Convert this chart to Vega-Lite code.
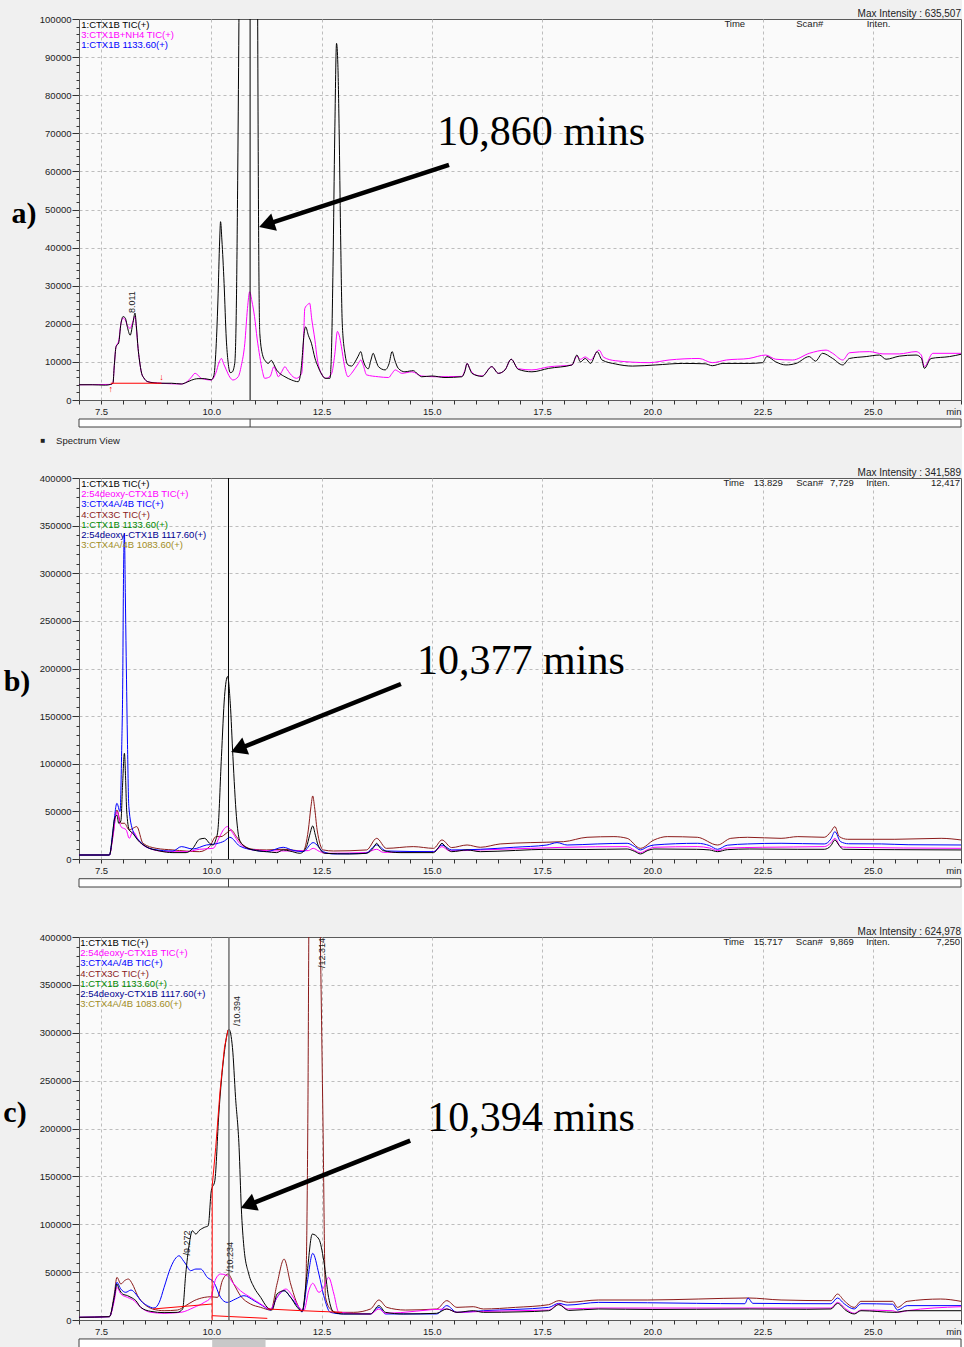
{
"$schema":"https://vega.github.io/schema/vega-lite/v6.json",
"background":"#f0f0f0",
"padding":{"left":2,"top":8,"right":0,"bottom":0},
"config":{"font":"Liberation Sans","view":{"stroke":"#5a5a5a","fill":"#fafafa","strokeWidth":1},"text":{"font":"Liberation Sans","fontSize":9.5,"color":"#222222"},"point":{"opacity":1}},
"datasets":{
"A":[
{"s":"TIC2","t":7.0,"v":4000},{"s":"TIC2","t":7.72,"v":4100},{"s":"TIC2","t":7.77,"v":4400},{"s":"TIC2","t":7.8,"v":9000},{"s":"TIC2","t":7.84,"v":14000},{"s":"TIC2","t":7.9,"v":15500},{"s":"TIC2","t":7.95,"v":20000},{"s":"TIC2","t":8.0,"v":21500},{"s":"TIC2","t":8.05,"v":21000},{"s":"TIC2","t":8.1,"v":19500},{"s":"TIC2","t":8.16,"v":18800},{"s":"TIC2","t":8.22,"v":20500},{"s":"TIC2","t":8.27,"v":22000},{"s":"TIC2","t":8.3,"v":19000},{"s":"TIC2","t":8.34,"v":13500},{"s":"TIC2","t":8.37,"v":10500},{"s":"TIC2","t":8.42,"v":7000},{"s":"TIC2","t":8.47,"v":5800},{"s":"TIC2","t":8.56,"v":4800},{"s":"TIC2","t":8.86,"v":4400},{"s":"TIC2","t":9.32,"v":4200},{"s":"TIC2","t":9.45,"v":4800},{"s":"TIC2","t":9.55,"v":6000},{"s":"TIC2","t":9.63,"v":7000},{"s":"TIC2","t":9.7,"v":6500},{"s":"TIC2","t":9.77,"v":5700},{"s":"TIC2","t":10.0,"v":5250},{"s":"TIC2","t":10.1,"v":7000},{"s":"TIC2","t":10.18,"v":10000},{"s":"TIC2","t":10.23,"v":10900},{"s":"TIC2","t":10.28,"v":9500},{"s":"TIC2","t":10.34,"v":7900},{"s":"TIC2","t":10.42,"v":6000},{"s":"TIC2","t":10.49,"v":5250},{"s":"TIC2","t":10.61,"v":6100},{"s":"TIC2","t":10.68,"v":9000},{"s":"TIC2","t":10.76,"v":14900},{"s":"TIC2","t":10.82,"v":24000},{"s":"TIC2","t":10.87,"v":28400},{"s":"TIC2","t":10.92,"v":26000},{"s":"TIC2","t":10.98,"v":21900},{"s":"TIC2","t":11.04,"v":16000},{"s":"TIC2","t":11.1,"v":11400},{"s":"TIC2","t":11.16,"v":7500},{"s":"TIC2","t":11.21,"v":5700},{"s":"TIC2","t":11.33,"v":6100},{"s":"TIC2","t":11.42,"v":8750},{"s":"TIC2","t":11.47,"v":7500},{"s":"TIC2","t":11.52,"v":6100},{"s":"TIC2","t":11.6,"v":7500},{"s":"TIC2","t":11.67,"v":8750},{"s":"TIC2","t":11.72,"v":8000},{"s":"TIC2","t":11.78,"v":7000},{"s":"TIC2","t":11.93,"v":5700},{"s":"TIC2","t":12.05,"v":7000},{"s":"TIC2","t":12.09,"v":15000},{"s":"TIC2","t":12.12,"v":24000},{"s":"TIC2","t":12.18,"v":25000},{"s":"TIC2","t":12.23,"v":25400},{"s":"TIC2","t":12.28,"v":21000},{"s":"TIC2","t":12.35,"v":15700},{"s":"TIC2","t":12.4,"v":11000},{"s":"TIC2","t":12.46,"v":7900},{"s":"TIC2","t":12.61,"v":5700},{"s":"TIC2","t":12.73,"v":7000},{"s":"TIC2","t":12.8,"v":12000},{"s":"TIC2","t":12.86,"v":18000},{"s":"TIC2","t":12.9,"v":17000},{"s":"TIC2","t":12.95,"v":14000},{"s":"TIC2","t":13.02,"v":9000},{"s":"TIC2","t":13.1,"v":6100},{"s":"TIC2","t":13.18,"v":7000},{"s":"TIC2","t":13.26,"v":8300},{"s":"TIC2","t":13.33,"v":9500},{"s":"TIC2","t":13.39,"v":10500},{"s":"TIC2","t":13.45,"v":9000},{"s":"TIC2","t":13.52,"v":6600},{"s":"TIC2","t":13.79,"v":6100},{"s":"TIC2","t":14.02,"v":5900},{"s":"TIC2","t":14.1,"v":7000},{"s":"TIC2","t":14.17,"v":7900},{"s":"TIC2","t":14.24,"v":7500},{"s":"TIC2","t":14.32,"v":7000},{"s":"TIC2","t":14.55,"v":7400},{"s":"TIC2","t":14.77,"v":6300},{"s":"TIC2","t":15.08,"v":6100},{"s":"TIC2","t":15.68,"v":6200},{"s":"TIC2","t":15.75,"v":7800},{"s":"TIC2","t":15.8,"v":9600},{"s":"TIC2","t":15.88,"v":7800},{"s":"TIC2","t":15.98,"v":6600},{"s":"TIC2","t":16.14,"v":6300},{"s":"TIC2","t":16.36,"v":8750},{"s":"TIC2","t":16.51,"v":7000},{"s":"TIC2","t":16.66,"v":7900},{"s":"TIC2","t":16.8,"v":10700},{"s":"TIC2","t":16.96,"v":8200},{"s":"TIC2","t":17.27,"v":7900},{"s":"TIC2","t":17.65,"v":8700},{"s":"TIC2","t":18.18,"v":9200},{"s":"TIC2","t":18.29,"v":11500},{"s":"TIC2","t":18.37,"v":10700},{"s":"TIC2","t":18.48,"v":11300},{"s":"TIC2","t":18.6,"v":10500},{"s":"TIC2","t":18.79,"v":13100},{"s":"TIC2","t":18.9,"v":11200},{"s":"TIC2","t":19.17,"v":10300},{"s":"TIC2","t":19.93,"v":9800},{"s":"TIC2","t":20.38,"v":10500},{"s":"TIC2","t":21.06,"v":10900},{"s":"TIC2","t":21.36,"v":9800},{"s":"TIC2","t":21.68,"v":10500},{"s":"TIC2","t":22.19,"v":10900},{"s":"TIC2","t":22.57,"v":11800},{"s":"TIC2","t":22.8,"v":10700},{"s":"TIC2","t":23.18,"v":10500},{"s":"TIC2","t":23.56,"v":12250},{"s":"TIC2","t":23.94,"v":13100},{"s":"TIC2","t":24.09,"v":12250},{"s":"TIC2","t":24.32,"v":10500},{"s":"TIC2","t":24.47,"v":12400},{"s":"TIC2","t":24.92,"v":12700},{"s":"TIC2","t":25.23,"v":12100},{"s":"TIC2","t":25.6,"v":12100},{"s":"TIC2","t":25.98,"v":12700},{"s":"TIC2","t":26.1,"v":11800},{"s":"TIC2","t":26.17,"v":8750},{"s":"TIC2","t":26.36,"v":12250},{"s":"TIC2","t":27.0,"v":12250},
{"s":"TIC1","t":7.0,"v":4000},{"s":"TIC1","t":7.3,"v":4000},{"s":"TIC1","t":7.6,"v":3900},{"s":"TIC1","t":7.72,"v":4100},{"s":"TIC1","t":7.77,"v":4400},{"s":"TIC1","t":7.8,"v":9000},{"s":"TIC1","t":7.84,"v":14000},{"s":"TIC1","t":7.9,"v":15000},{"s":"TIC1","t":7.95,"v":20000},{"s":"TIC1","t":8.0,"v":21900},{"s":"TIC1","t":8.05,"v":21500},{"s":"TIC1","t":8.1,"v":19000},{"s":"TIC1","t":8.16,"v":17000},{"s":"TIC1","t":8.22,"v":20000},{"s":"TIC1","t":8.27,"v":22800},{"s":"TIC1","t":8.3,"v":19500},{"s":"TIC1","t":8.34,"v":13500},{"s":"TIC1","t":8.37,"v":10500},{"s":"TIC1","t":8.42,"v":7000},{"s":"TIC1","t":8.47,"v":5800},{"s":"TIC1","t":8.56,"v":4800},{"s":"TIC1","t":8.7,"v":4500},{"s":"TIC1","t":8.86,"v":4400},{"s":"TIC1","t":9.1,"v":4400},{"s":"TIC1","t":9.32,"v":4200},{"s":"TIC1","t":9.45,"v":4700},{"s":"TIC1","t":9.55,"v":5200},{"s":"TIC1","t":9.7,"v":5600},{"s":"TIC1","t":9.85,"v":5600},{"s":"TIC1","t":10.0,"v":5300},{"s":"TIC1","t":10.06,"v":6500},{"s":"TIC1","t":10.1,"v":12000},{"s":"TIC1","t":10.15,"v":26000},{"s":"TIC1","t":10.19,"v":42000},{"s":"TIC1","t":10.21,"v":46800},{"s":"TIC1","t":10.24,"v":42000},{"s":"TIC1","t":10.29,"v":30600},{"s":"TIC1","t":10.34,"v":16000},{"s":"TIC1","t":10.38,"v":10000},{"s":"TIC1","t":10.43,"v":7200},{"s":"TIC1","t":10.47,"v":7300},{"s":"TIC1","t":10.53,"v":9500},{"s":"TIC1","t":10.57,"v":26000},{"s":"TIC1","t":10.6,"v":60000},{"s":"TIC1","t":10.63,"v":105000},{"s":"TIC1","t":10.86,"v":635507},{"s":"TIC1","t":11.05,"v":105000},{"s":"TIC1","t":11.07,"v":50000},{"s":"TIC1","t":11.1,"v":17500},{"s":"TIC1","t":11.17,"v":11500},{"s":"TIC1","t":11.23,"v":10200},{"s":"TIC1","t":11.29,"v":9600},{"s":"TIC1","t":11.36,"v":10400},{"s":"TIC1","t":11.42,"v":9300},{"s":"TIC1","t":11.48,"v":7900},{"s":"TIC1","t":11.55,"v":7000},{"s":"TIC1","t":11.67,"v":6100},{"s":"TIC1","t":11.82,"v":5250},{"s":"TIC1","t":11.97,"v":4800},{"s":"TIC1","t":12.02,"v":6500},{"s":"TIC1","t":12.06,"v":11000},{"s":"TIC1","t":12.1,"v":17000},{"s":"TIC1","t":12.14,"v":19200},{"s":"TIC1","t":12.2,"v":17000},{"s":"TIC1","t":12.27,"v":14900},{"s":"TIC1","t":12.35,"v":11000},{"s":"TIC1","t":12.42,"v":8750},{"s":"TIC1","t":12.5,"v":6800},{"s":"TIC1","t":12.58,"v":5700},{"s":"TIC1","t":12.69,"v":5700},{"s":"TIC1","t":12.73,"v":15000},{"s":"TIC1","t":12.76,"v":35000},{"s":"TIC1","t":12.8,"v":70000},{"s":"TIC1","t":12.84,"v":93600},{"s":"TIC1","t":12.87,"v":88000},{"s":"TIC1","t":12.9,"v":70000},{"s":"TIC1","t":12.93,"v":45000},{"s":"TIC1","t":12.97,"v":20000},{"s":"TIC1","t":13.03,"v":12250},{"s":"TIC1","t":13.1,"v":9200},{"s":"TIC1","t":13.18,"v":8900},{"s":"TIC1","t":13.26,"v":10000},{"s":"TIC1","t":13.33,"v":11500},{"s":"TIC1","t":13.39,"v":12700},{"s":"TIC1","t":13.44,"v":10500},{"s":"TIC1","t":13.48,"v":9200},{"s":"TIC1","t":13.56,"v":8200},{"s":"TIC1","t":13.62,"v":10500},{"s":"TIC1","t":13.67,"v":12250},{"s":"TIC1","t":13.73,"v":10500},{"s":"TIC1","t":13.79,"v":8750},{"s":"TIC1","t":13.94,"v":7900},{"s":"TIC1","t":14.03,"v":9500},{"s":"TIC1","t":14.1,"v":12700},{"s":"TIC1","t":14.16,"v":10500},{"s":"TIC1","t":14.24,"v":8300},{"s":"TIC1","t":14.39,"v":7400},{"s":"TIC1","t":14.5,"v":7600},{"s":"TIC1","t":14.58,"v":7700},{"s":"TIC1","t":14.68,"v":6800},{"s":"TIC1","t":14.77,"v":6100},{"s":"TIC1","t":15.0,"v":6300},{"s":"TIC1","t":15.3,"v":5900},{"s":"TIC1","t":15.68,"v":6100},{"s":"TIC1","t":15.75,"v":7500},{"s":"TIC1","t":15.8,"v":9600},{"s":"TIC1","t":15.86,"v":8200},{"s":"TIC1","t":15.91,"v":7000},{"s":"TIC1","t":16.14,"v":6200},{"s":"TIC1","t":16.36,"v":8750},{"s":"TIC1","t":16.51,"v":7000},{"s":"TIC1","t":16.66,"v":7900},{"s":"TIC1","t":16.8,"v":10700},{"s":"TIC1","t":16.96,"v":8050},{"s":"TIC1","t":17.27,"v":7400},{"s":"TIC1","t":17.65,"v":8300},{"s":"TIC1","t":18.18,"v":9200},{"s":"TIC1","t":18.29,"v":11800},{"s":"TIC1","t":18.37,"v":10000},{"s":"TIC1","t":18.48,"v":10900},{"s":"TIC1","t":18.6,"v":9600},{"s":"TIC1","t":18.75,"v":12700},{"s":"TIC1","t":18.86,"v":10500},{"s":"TIC1","t":19.17,"v":9450},{"s":"TIC1","t":19.55,"v":8900},{"s":"TIC1","t":20.08,"v":9200},{"s":"TIC1","t":20.69,"v":9600},{"s":"TIC1","t":21.2,"v":9500},{"s":"TIC1","t":21.36,"v":9000},{"s":"TIC1","t":21.6,"v":9600},{"s":"TIC1","t":22.19,"v":9600},{"s":"TIC1","t":22.5,"v":9800},{"s":"TIC1","t":22.6,"v":11400},{"s":"TIC1","t":22.8,"v":10000},{"s":"TIC1","t":23.03,"v":9200},{"s":"TIC1","t":23.26,"v":9600},{"s":"TIC1","t":23.56,"v":11400},{"s":"TIC1","t":23.7,"v":10200},{"s":"TIC1","t":23.86,"v":12250},{"s":"TIC1","t":24.09,"v":10900},{"s":"TIC1","t":24.32,"v":9200},{"s":"TIC1","t":24.47,"v":10900},{"s":"TIC1","t":24.85,"v":11400},{"s":"TIC1","t":25.15,"v":11800},{"s":"TIC1","t":25.3,"v":10700},{"s":"TIC1","t":25.6,"v":11500},{"s":"TIC1","t":25.98,"v":11800},{"s":"TIC1","t":26.1,"v":11000},{"s":"TIC1","t":26.17,"v":8300},{"s":"TIC1","t":26.32,"v":10900},{"s":"TIC1","t":26.74,"v":11400},{"s":"TIC1","t":27.0,"v":12000}
],
"IA":[{"seg":1,"t":7.72,"v":4400},{"seg":1,"t":8.87,"v":4400}],
"B":[
{"s":"TIC4","t":7.0,"v":4200},{"s":"TIC4","t":7.69,"v":4200},{"s":"TIC4","t":7.77,"v":25000},{"s":"TIC4","t":7.86,"v":51500},{"s":"TIC4","t":7.95,"v":37500},{"s":"TIC4","t":8.03,"v":37500},{"s":"TIC4","t":8.14,"v":30500},{"s":"TIC4","t":8.22,"v":32200},{"s":"TIC4","t":8.31,"v":34000},{"s":"TIC4","t":8.45,"v":16500},{"s":"TIC4","t":8.75,"v":11200},{"s":"TIC4","t":9.13,"v":9500},{"s":"TIC4","t":9.73,"v":7700},{"s":"TIC4","t":9.96,"v":13000},{"s":"TIC4","t":10.11,"v":23500},{"s":"TIC4","t":10.22,"v":23500},{"s":"TIC4","t":10.34,"v":27000},{"s":"TIC4","t":10.45,"v":30500},{"s":"TIC4","t":10.57,"v":23500},{"s":"TIC4","t":10.72,"v":14700},{"s":"TIC4","t":10.95,"v":10200},{"s":"TIC4","t":11.25,"v":9500},{"s":"TIC4","t":11.63,"v":10200},{"s":"TIC4","t":12.08,"v":8400},{"s":"TIC4","t":12.2,"v":30500},{"s":"TIC4","t":12.26,"v":55000},{"s":"TIC4","t":12.3,"v":66200},{"s":"TIC4","t":12.34,"v":55000},{"s":"TIC4","t":12.4,"v":30500},{"s":"TIC4","t":12.54,"v":9500},{"s":"TIC4","t":12.77,"v":8400},{"s":"TIC4","t":13.52,"v":9500},{"s":"TIC4","t":13.75,"v":21700},{"s":"TIC4","t":13.97,"v":11200},{"s":"TIC4","t":14.58,"v":13000},{"s":"TIC4","t":15.04,"v":11200},{"s":"TIC4","t":15.23,"v":20000},{"s":"TIC4","t":15.45,"v":12000},{"s":"TIC4","t":15.8,"v":14700},{"s":"TIC4","t":16.1,"v":12300},{"s":"TIC4","t":16.55,"v":15800},{"s":"TIC4","t":17.23,"v":17200},{"s":"TIC4","t":17.99,"v":18200},{"s":"TIC4","t":18.52,"v":22800},{"s":"TIC4","t":19.13,"v":23500},{"s":"TIC4","t":19.43,"v":21700},{"s":"TIC4","t":19.73,"v":11200},{"s":"TIC4","t":20.04,"v":20000},{"s":"TIC4","t":20.34,"v":23500},{"s":"TIC4","t":21.02,"v":22800},{"s":"TIC4","t":21.48,"v":14700},{"s":"TIC4","t":21.78,"v":21700},{"s":"TIC4","t":22.16,"v":22800},{"s":"TIC4","t":22.92,"v":21700},{"s":"TIC4","t":23.3,"v":23500},{"s":"TIC4","t":23.9,"v":22800},{"s":"TIC4","t":24.05,"v":28700},{"s":"TIC4","t":24.14,"v":34000},{"s":"TIC4","t":24.24,"v":23500},{"s":"TIC4","t":24.43,"v":20700},{"s":"TIC4","t":25.5,"v":20700},{"s":"TIC4","t":26.55,"v":21700},{"s":"TIC4","t":27.0,"v":20000},
{"s":"TIC2","t":7.0,"v":4200},{"s":"TIC2","t":7.69,"v":4200},{"s":"TIC2","t":7.77,"v":23500},{"s":"TIC2","t":7.86,"v":49700},{"s":"TIC2","t":7.95,"v":34000},{"s":"TIC2","t":8.07,"v":30500},{"s":"TIC2","t":8.14,"v":21700},{"s":"TIC2","t":8.22,"v":28700},{"s":"TIC2","t":8.37,"v":18200},{"s":"TIC2","t":8.6,"v":11000},{"s":"TIC2","t":9.0,"v":7700},{"s":"TIC2","t":9.43,"v":7700},{"s":"TIC2","t":9.73,"v":10200},{"s":"TIC2","t":10.04,"v":11200},{"s":"TIC2","t":10.19,"v":23500},{"s":"TIC2","t":10.28,"v":31000},{"s":"TIC2","t":10.36,"v":34000},{"s":"TIC2","t":10.49,"v":27000},{"s":"TIC2","t":10.64,"v":16500},{"s":"TIC2","t":10.95,"v":9500},{"s":"TIC2","t":11.63,"v":8400},{"s":"TIC2","t":12.2,"v":8800},{"s":"TIC2","t":12.31,"v":11200},{"s":"TIC2","t":12.45,"v":8000},{"s":"TIC2","t":12.61,"v":6000},{"s":"TIC2","t":13.5,"v":6700},{"s":"TIC2","t":13.75,"v":10200},{"s":"TIC2","t":13.9,"v":7000},{"s":"TIC2","t":15.04,"v":7700},{"s":"TIC2","t":15.23,"v":13000},{"s":"TIC2","t":15.4,"v":8500},{"s":"TIC2","t":16.1,"v":9500},{"s":"TIC2","t":17.23,"v":11200},{"s":"TIC2","t":18.0,"v":12300},{"s":"TIC2","t":19.43,"v":13000},{"s":"TIC2","t":19.6,"v":9000},{"s":"TIC2","t":19.73,"v":6700},{"s":"TIC2","t":19.9,"v":10000},{"s":"TIC2","t":20.04,"v":12300},{"s":"TIC2","t":21.02,"v":13000},{"s":"TIC2","t":21.3,"v":11500},{"s":"TIC2","t":21.48,"v":8800},{"s":"TIC2","t":21.7,"v":11500},{"s":"TIC2","t":22.5,"v":12300},{"s":"TIC2","t":23.9,"v":13000},{"s":"TIC2","t":24.05,"v":17000},{"s":"TIC2","t":24.14,"v":21700},{"s":"TIC2","t":24.27,"v":13000},{"s":"TIC2","t":24.4,"v":12300},{"s":"TIC2","t":27.0,"v":11200},
{"s":"TIC3","t":7.0,"v":4200},{"s":"TIC3","t":7.69,"v":4200},{"s":"TIC3","t":7.77,"v":30000},{"s":"TIC3","t":7.86,"v":58500},{"s":"TIC3","t":7.93,"v":49700},{"s":"TIC3","t":7.97,"v":120000},{"s":"TIC3","t":7.99,"v":177600},{"s":"TIC3","t":8.01,"v":300000},{"s":"TIC3","t":8.03,"v":342000},{"s":"TIC3","t":8.05,"v":280000},{"s":"TIC3","t":8.07,"v":212600},{"s":"TIC3","t":8.1,"v":120000},{"s":"TIC3","t":8.13,"v":55000},{"s":"TIC3","t":8.22,"v":30000},{"s":"TIC3","t":8.37,"v":19000},{"s":"TIC3","t":8.7,"v":10000},{"s":"TIC3","t":9.13,"v":8400},{"s":"TIC3","t":9.32,"v":13000},{"s":"TIC3","t":9.58,"v":10500},{"s":"TIC3","t":9.89,"v":14700},{"s":"TIC3","t":10.11,"v":16000},{"s":"TIC3","t":10.3,"v":19000},{"s":"TIC3","t":10.42,"v":22800},{"s":"TIC3","t":10.64,"v":13700},{"s":"TIC3","t":10.95,"v":9500},{"s":"TIC3","t":11.25,"v":7700},{"s":"TIC3","t":11.63,"v":12300},{"s":"TIC3","t":11.86,"v":9000},{"s":"TIC3","t":12.08,"v":7700},{"s":"TIC3","t":12.31,"v":17200},{"s":"TIC3","t":12.54,"v":7700},{"s":"TIC3","t":12.77,"v":5300},{"s":"TIC3","t":13.5,"v":6000},{"s":"TIC3","t":13.75,"v":14700},{"s":"TIC3","t":13.97,"v":8400},{"s":"TIC3","t":15.04,"v":7700},{"s":"TIC3","t":15.23,"v":14700},{"s":"TIC3","t":15.45,"v":9500},{"s":"TIC3","t":16.1,"v":10200},{"s":"TIC3","t":16.86,"v":12300},{"s":"TIC3","t":17.61,"v":14700},{"s":"TIC3","t":17.84,"v":17200},{"s":"TIC3","t":18.07,"v":14700},{"s":"TIC3","t":18.75,"v":15800},{"s":"TIC3","t":19.43,"v":16500},{"s":"TIC3","t":19.6,"v":13000},{"s":"TIC3","t":19.73,"v":9500},{"s":"TIC3","t":19.9,"v":13000},{"s":"TIC3","t":20.04,"v":14700},{"s":"TIC3","t":21.02,"v":16500},{"s":"TIC3","t":21.3,"v":14000},{"s":"TIC3","t":21.48,"v":10200},{"s":"TIC3","t":21.7,"v":14500},{"s":"TIC3","t":22.16,"v":15800},{"s":"TIC3","t":22.92,"v":16500},{"s":"TIC3","t":23.9,"v":15800},{"s":"TIC3","t":24.05,"v":21000},{"s":"TIC3","t":24.14,"v":28700},{"s":"TIC3","t":24.27,"v":18200},{"s":"TIC3","t":24.45,"v":16000},{"s":"TIC3","t":25.2,"v":15800},{"s":"TIC3","t":25.8,"v":15000},{"s":"TIC3","t":27.0,"v":14700},
{"s":"TIC1","t":7.0,"v":4200},{"s":"TIC1","t":7.69,"v":4200},{"s":"TIC1","t":7.75,"v":20000},{"s":"TIC1","t":7.8,"v":41000},{"s":"TIC1","t":7.86,"v":46000},{"s":"TIC1","t":7.9,"v":37500},{"s":"TIC1","t":7.95,"v":40000},{"s":"TIC1","t":7.99,"v":80000},{"s":"TIC1","t":8.03,"v":111000},{"s":"TIC1","t":8.06,"v":80000},{"s":"TIC1","t":8.08,"v":51500},{"s":"TIC1","t":8.14,"v":30500},{"s":"TIC1","t":8.22,"v":27000},{"s":"TIC1","t":8.33,"v":20000},{"s":"TIC1","t":8.52,"v":13000},{"s":"TIC1","t":8.83,"v":8400},{"s":"TIC1","t":9.13,"v":6700},{"s":"TIC1","t":9.43,"v":6700},{"s":"TIC1","t":9.58,"v":11200},{"s":"TIC1","t":9.73,"v":20700},{"s":"TIC1","t":9.85,"v":21700},{"s":"TIC1","t":9.96,"v":16500},{"s":"TIC1","t":10.04,"v":14700},{"s":"TIC1","t":10.1,"v":20000},{"s":"TIC1","t":10.15,"v":30500},{"s":"TIC1","t":10.23,"v":107500},{"s":"TIC1","t":10.3,"v":170600},{"s":"TIC1","t":10.37,"v":191600},{"s":"TIC1","t":10.43,"v":163600},{"s":"TIC1","t":10.49,"v":107500},{"s":"TIC1","t":10.57,"v":44500},{"s":"TIC1","t":10.64,"v":20000},{"s":"TIC1","t":10.76,"v":13000},{"s":"TIC1","t":10.95,"v":9500},{"s":"TIC1","t":11.25,"v":7700},{"s":"TIC1","t":11.48,"v":6700},{"s":"TIC1","t":11.63,"v":9500},{"s":"TIC1","t":11.78,"v":8400},{"s":"TIC1","t":12.01,"v":6000},{"s":"TIC1","t":12.16,"v":13000},{"s":"TIC1","t":12.23,"v":25000},{"s":"TIC1","t":12.3,"v":34700},{"s":"TIC1","t":12.36,"v":25000},{"s":"TIC1","t":12.42,"v":14700},{"s":"TIC1","t":12.58,"v":6000},{"s":"TIC1","t":13.14,"v":5300},{"s":"TIC1","t":13.52,"v":6000},{"s":"TIC1","t":13.68,"v":12000},{"s":"TIC1","t":13.75,"v":16500},{"s":"TIC1","t":13.82,"v":12000},{"s":"TIC1","t":13.9,"v":8800},{"s":"TIC1","t":14.28,"v":6700},{"s":"TIC1","t":15.04,"v":6700},{"s":"TIC1","t":15.15,"v":12000},{"s":"TIC1","t":15.23,"v":16500},{"s":"TIC1","t":15.32,"v":12000},{"s":"TIC1","t":15.45,"v":7700},{"s":"TIC1","t":15.8,"v":9500},{"s":"TIC1","t":16.1,"v":7700},{"s":"TIC1","t":16.9,"v":9000},{"s":"TIC1","t":17.61,"v":10200},{"s":"TIC1","t":18.5,"v":10000},{"s":"TIC1","t":19.43,"v":10500},{"s":"TIC1","t":19.6,"v":8000},{"s":"TIC1","t":19.73,"v":5300},{"s":"TIC1","t":19.9,"v":9000},{"s":"TIC1","t":20.04,"v":10500},{"s":"TIC1","t":21.0,"v":10200},{"s":"TIC1","t":21.3,"v":9500},{"s":"TIC1","t":21.48,"v":7700},{"s":"TIC1","t":21.7,"v":9800},{"s":"TIC1","t":22.2,"v":10500},{"s":"TIC1","t":23.3,"v":10200},{"s":"TIC1","t":23.9,"v":10200},{"s":"TIC1","t":24.05,"v":14000},{"s":"TIC1","t":24.14,"v":20000},{"s":"TIC1","t":24.24,"v":14000},{"s":"TIC1","t":24.33,"v":10200},{"s":"TIC1","t":25.5,"v":9800},{"s":"TIC1","t":27.0,"v":9500}
],
"C":[
{"s":"TIC4","t":7.0,"v":2800},{"s":"TIC4","t":7.69,"v":3500},{"s":"TIC4","t":7.8,"v":27100},{"s":"TIC4","t":7.86,"v":44500},{"s":"TIC4","t":7.95,"v":37600},{"s":"TIC4","t":8.03,"v":41000},{"s":"TIC4","t":8.12,"v":42800},{"s":"TIC4","t":8.21,"v":37600},{"s":"TIC4","t":8.33,"v":25400},{"s":"TIC4","t":8.48,"v":16700},{"s":"TIC4","t":8.67,"v":11500},{"s":"TIC4","t":8.93,"v":9700},{"s":"TIC4","t":9.23,"v":10400},{"s":"TIC4","t":9.42,"v":15000},{"s":"TIC4","t":9.61,"v":20200},{"s":"TIC4","t":9.84,"v":23600},{"s":"TIC4","t":9.99,"v":24300},{"s":"TIC4","t":10.14,"v":23600},{"s":"TIC4","t":10.25,"v":41000},{"s":"TIC4","t":10.38,"v":48000},{"s":"TIC4","t":10.51,"v":37600},{"s":"TIC4","t":10.66,"v":25400},{"s":"TIC4","t":10.89,"v":16700},{"s":"TIC4","t":11.12,"v":13200},{"s":"TIC4","t":11.35,"v":10400},{"s":"TIC4","t":11.49,"v":37600},{"s":"TIC4","t":11.65,"v":63600},{"s":"TIC4","t":11.8,"v":37600},{"s":"TIC4","t":11.95,"v":16700},{"s":"TIC4","t":12.06,"v":9700},{"s":"TIC4","t":12.14,"v":34100},{"s":"TIC4","t":12.19,"v":215000},{"s":"TIC4","t":12.22,"v":460000},{"s":"TIC4","t":12.314,"v":624978},{"s":"TIC4","t":12.45,"v":460000},{"s":"TIC4","t":12.53,"v":215000},{"s":"TIC4","t":12.59,"v":23600},{"s":"TIC4","t":12.7,"v":11500},{"s":"TIC4","t":12.85,"v":8000},{"s":"TIC4","t":13.23,"v":8000},{"s":"TIC4","t":13.61,"v":11500},{"s":"TIC4","t":13.8,"v":20900},{"s":"TIC4","t":13.98,"v":13200},{"s":"TIC4","t":14.4,"v":10400},{"s":"TIC4","t":15.11,"v":11500},{"s":"TIC4","t":15.34,"v":20200},{"s":"TIC4","t":15.57,"v":13200},{"s":"TIC4","t":15.94,"v":13900},{"s":"TIC4","t":16.17,"v":11500},{"s":"TIC4","t":16.9,"v":13200},{"s":"TIC4","t":17.65,"v":16000},{"s":"TIC4","t":17.88,"v":20200},{"s":"TIC4","t":18.1,"v":18500},{"s":"TIC4","t":18.78,"v":20900},{"s":"TIC4","t":19.9,"v":20900},{"s":"TIC4","t":21.04,"v":21900},{"s":"TIC4","t":22.17,"v":23000},{"s":"TIC4","t":22.92,"v":20900},{"s":"TIC4","t":24.05,"v":20200},{"s":"TIC4","t":24.2,"v":27100},{"s":"TIC4","t":24.35,"v":20200},{"s":"TIC4","t":24.58,"v":13200},{"s":"TIC4","t":24.73,"v":19500},{"s":"TIC4","t":25.45,"v":19500},{"s":"TIC4","t":25.56,"v":13200},{"s":"TIC4","t":25.78,"v":19500},{"s":"TIC4","t":26.54,"v":21900},{"s":"TIC4","t":27.0,"v":19500},
{"s":"TIC3","t":7.0,"v":2800},{"s":"TIC3","t":7.69,"v":3500},{"s":"TIC3","t":7.8,"v":23600},{"s":"TIC3","t":7.86,"v":39300},{"s":"TIC3","t":7.95,"v":32300},{"s":"TIC3","t":8.06,"v":28900},{"s":"TIC3","t":8.18,"v":31300},{"s":"TIC3","t":8.29,"v":27100},{"s":"TIC3","t":8.4,"v":20200},{"s":"TIC3","t":8.55,"v":15000},{"s":"TIC3","t":8.7,"v":12500},{"s":"TIC3","t":8.82,"v":18400},{"s":"TIC3","t":8.93,"v":34100},{"s":"TIC3","t":9.08,"v":55000},{"s":"TIC3","t":9.2,"v":65000},{"s":"TIC3","t":9.27,"v":67100},{"s":"TIC3","t":9.35,"v":63000},{"s":"TIC3","t":9.42,"v":58400},{"s":"TIC3","t":9.53,"v":51500},{"s":"TIC3","t":9.65,"v":53200},{"s":"TIC3","t":9.76,"v":53200},{"s":"TIC3","t":9.91,"v":44500},{"s":"TIC3","t":10.06,"v":39300},{"s":"TIC3","t":10.21,"v":23600},{"s":"TIC3","t":10.36,"v":18400},{"s":"TIC3","t":10.55,"v":21900},{"s":"TIC3","t":10.74,"v":25400},{"s":"TIC3","t":10.97,"v":20200},{"s":"TIC3","t":11.16,"v":15000},{"s":"TIC3","t":11.34,"v":10400},{"s":"TIC3","t":11.49,"v":23600},{"s":"TIC3","t":11.65,"v":30600},{"s":"TIC3","t":11.8,"v":23600},{"s":"TIC3","t":11.95,"v":15000},{"s":"TIC3","t":12.06,"v":8500},{"s":"TIC3","t":12.17,"v":37600},{"s":"TIC3","t":12.3,"v":69600},{"s":"TIC3","t":12.44,"v":48000},{"s":"TIC3","t":12.55,"v":25400},{"s":"TIC3","t":12.7,"v":8000},{"s":"TIC3","t":13.0,"v":6300},{"s":"TIC3","t":13.61,"v":6300},{"s":"TIC3","t":13.8,"v":13200},{"s":"TIC3","t":13.95,"v":6300},{"s":"TIC3","t":15.11,"v":6300},{"s":"TIC3","t":15.34,"v":15000},{"s":"TIC3","t":15.57,"v":8000},{"s":"TIC3","t":16.17,"v":9700},{"s":"TIC3","t":17.65,"v":13200},{"s":"TIC3","t":17.88,"v":17400},{"s":"TIC3","t":18.07,"v":15600},{"s":"TIC3","t":18.78,"v":18400},{"s":"TIC3","t":21.0,"v":17400},{"s":"TIC3","t":22.1,"v":17000},{"s":"TIC3","t":22.17,"v":23000},{"s":"TIC3","t":22.28,"v":17400},{"s":"TIC3","t":24.05,"v":17000},{"s":"TIC3","t":24.2,"v":23000},{"s":"TIC3","t":24.35,"v":17000},{"s":"TIC3","t":24.58,"v":11500},{"s":"TIC3","t":24.73,"v":17000},{"s":"TIC3","t":25.45,"v":16500},{"s":"TIC3","t":25.56,"v":10400},{"s":"TIC3","t":25.78,"v":15000},{"s":"TIC3","t":27.0,"v":15000},
{"s":"TIC2","t":7.0,"v":2800},{"s":"TIC2","t":7.69,"v":3500},{"s":"TIC2","t":7.8,"v":20200},{"s":"TIC2","t":7.86,"v":34100},{"s":"TIC2","t":7.95,"v":27100},{"s":"TIC2","t":8.1,"v":23600},{"s":"TIC2","t":8.25,"v":20200},{"s":"TIC2","t":8.4,"v":13200},{"s":"TIC2","t":8.63,"v":8000},{"s":"TIC2","t":8.93,"v":7000},{"s":"TIC2","t":9.31,"v":8000},{"s":"TIC2","t":9.61,"v":13200},{"s":"TIC2","t":9.84,"v":18400},{"s":"TIC2","t":9.99,"v":23600},{"s":"TIC2","t":10.1,"v":42800},{"s":"TIC2","t":10.21,"v":48000},{"s":"TIC2","t":10.36,"v":46300},{"s":"TIC2","t":10.51,"v":37600},{"s":"TIC2","t":10.66,"v":30600},{"s":"TIC2","t":10.89,"v":23600},{"s":"TIC2","t":11.12,"v":16700},{"s":"TIC2","t":11.34,"v":11500},{"s":"TIC2","t":11.49,"v":23600},{"s":"TIC2","t":11.69,"v":32300},{"s":"TIC2","t":11.84,"v":25000},{"s":"TIC2","t":11.99,"v":13200},{"s":"TIC2","t":12.1,"v":10000},{"s":"TIC2","t":12.21,"v":30600},{"s":"TIC2","t":12.3,"v":38300},{"s":"TIC2","t":12.44,"v":28900},{"s":"TIC2","t":12.55,"v":34100},{"s":"TIC2","t":12.66,"v":44500},{"s":"TIC2","t":12.78,"v":27100},{"s":"TIC2","t":12.89,"v":8000},{"s":"TIC2","t":13.61,"v":6300},{"s":"TIC2","t":13.8,"v":11500},{"s":"TIC2","t":13.95,"v":7000},{"s":"TIC2","t":15.34,"v":11500},{"s":"TIC2","t":15.57,"v":8000},{"s":"TIC2","t":16.17,"v":9000},{"s":"TIC2","t":17.65,"v":10400},{"s":"TIC2","t":17.88,"v":16700},{"s":"TIC2","t":18.07,"v":11500},{"s":"TIC2","t":18.78,"v":12500},{"s":"TIC2","t":21.0,"v":12500},{"s":"TIC2","t":24.05,"v":12500},{"s":"TIC2","t":24.2,"v":18400},{"s":"TIC2","t":24.39,"v":11500},{"s":"TIC2","t":24.58,"v":7000},{"s":"TIC2","t":24.73,"v":10400},{"s":"TIC2","t":25.45,"v":9700},{"s":"TIC2","t":25.56,"v":8000},{"s":"TIC2","t":25.78,"v":9700},{"s":"TIC2","t":27.0,"v":13900},
{"s":"TIC1","t":7.0,"v":2800},{"s":"TIC1","t":7.69,"v":3500},{"s":"TIC1","t":7.8,"v":23600},{"s":"TIC1","t":7.86,"v":37600},{"s":"TIC1","t":7.91,"v":32300},{"s":"TIC1","t":7.99,"v":27100},{"s":"TIC1","t":8.1,"v":25400},{"s":"TIC1","t":8.18,"v":23600},{"s":"TIC1","t":8.29,"v":20200},{"s":"TIC1","t":8.4,"v":13200},{"s":"TIC1","t":8.63,"v":9000},{"s":"TIC1","t":8.93,"v":7700},{"s":"TIC1","t":9.23,"v":8000},{"s":"TIC1","t":9.35,"v":11500},{"s":"TIC1","t":9.42,"v":48000},{"s":"TIC1","t":9.5,"v":79300},{"s":"TIC1","t":9.57,"v":93200},{"s":"TIC1","t":9.65,"v":89700},{"s":"TIC1","t":9.72,"v":93200},{"s":"TIC1","t":9.84,"v":96700},{"s":"TIC1","t":9.93,"v":98400},{"s":"TIC1","t":10.0,"v":135000},{"s":"TIC1","t":10.08,"v":145400},{"s":"TIC1","t":10.17,"v":215000},{"s":"TIC1","t":10.29,"v":277500},{"s":"TIC1","t":10.4,"v":303600},{"s":"TIC1","t":10.48,"v":284500},{"s":"TIC1","t":10.55,"v":232300},{"s":"TIC1","t":10.63,"v":180200},{"s":"TIC1","t":10.68,"v":117600},{"s":"TIC1","t":10.74,"v":75800},{"s":"TIC1","t":10.85,"v":48000},{"s":"TIC1","t":10.97,"v":34100},{"s":"TIC1","t":11.12,"v":23600},{"s":"TIC1","t":11.27,"v":13200},{"s":"TIC1","t":11.38,"v":10400},{"s":"TIC1","t":11.49,"v":27100},{"s":"TIC1","t":11.65,"v":30600},{"s":"TIC1","t":11.8,"v":23600},{"s":"TIC1","t":11.95,"v":13200},{"s":"TIC1","t":12.06,"v":9000},{"s":"TIC1","t":12.17,"v":48000},{"s":"TIC1","t":12.29,"v":89700},{"s":"TIC1","t":12.44,"v":84500},{"s":"TIC1","t":12.55,"v":61900},{"s":"TIC1","t":12.66,"v":23600},{"s":"TIC1","t":12.78,"v":8000},{"s":"TIC1","t":13.0,"v":6300},{"s":"TIC1","t":13.61,"v":6300},{"s":"TIC1","t":13.8,"v":15000},{"s":"TIC1","t":13.95,"v":8000},{"s":"TIC1","t":14.36,"v":6300},{"s":"TIC1","t":15.11,"v":7000},{"s":"TIC1","t":15.34,"v":11500},{"s":"TIC1","t":15.57,"v":8000},{"s":"TIC1","t":15.94,"v":9700},{"s":"TIC1","t":16.17,"v":8000},{"s":"TIC1","t":17.0,"v":8500},{"s":"TIC1","t":17.65,"v":9700},{"s":"TIC1","t":17.88,"v":16000},{"s":"TIC1","t":18.1,"v":10000},{"s":"TIC1","t":18.78,"v":11500},{"s":"TIC1","t":20.0,"v":11000},{"s":"TIC1","t":21.0,"v":11200},{"s":"TIC1","t":22.2,"v":11500},{"s":"TIC1","t":23.5,"v":11200},{"s":"TIC1","t":24.05,"v":11500},{"s":"TIC1","t":24.2,"v":17400},{"s":"TIC1","t":24.39,"v":10000},{"s":"TIC1","t":24.58,"v":6300},{"s":"TIC1","t":24.73,"v":9700},{"s":"TIC1","t":25.5,"v":8000},{"s":"TIC1","t":25.78,"v":9700},{"s":"TIC1","t":27.0,"v":9700}
],
"IC":[
{"seg":1,"t":8.68,"v":11500},{"seg":1,"t":10.02,"v":16700},
{"seg":2,"t":10.02,"v":4500},{"seg":2,"t":11.27,"v":1700},
{"seg":3,"t":11.27,"v":11500},{"seg":3,"t":12.06,"v":9700},
{"seg":4,"t":12.06,"v":9700},{"seg":4,"t":12.97,"v":8000},
{"seg":6,"t":10.02,"v":0},{"seg":6,"t":10.021,"v":140000},{"seg":6,"t":10.1,"v":180000},{"seg":6,"t":10.2,"v":240000},{"seg":6,"t":10.3,"v":285000},{"seg":6,"t":10.38,"v":303000}
],
"LA":[{"n":0,"s":"TIC1","label":"1:CTX1B TIC(+)"},{"n":1,"s":"TIC2","label":"3:CTX1B+NH4 TIC(+)"},{"n":2,"s":"TIC3","label":"1:CTX1B 1133.60(+)"}],
"LB":[{"n":0,"s":"TIC1","label":"1:CTX1B TIC(+)"},{"n":1,"s":"TIC2","label":"2:54deoxy-CTX1B TIC(+)"},{"n":2,"s":"TIC3","label":"3:CTX4A/4B TIC(+)"},{"n":3,"s":"TIC4","label":"4:CTX3C TIC(+)"},{"n":4,"s":"XIC1","label":"1:CTX1B 1133.60(+)"},{"n":5,"s":"XIC2","label":"2:54deoxy-CTX1B 1117.60(+)"},{"n":6,"s":"XIC3","label":"3:CTX4A/4B 1083.60(+)"}]
},
"bounds":"flush",
"spacing":78,
"vconcat":[
{
"width":882,"height":381,
"title":{"text":"Max Intensity : 635,507","anchor":"end","frame":"group","fontSize":10,"fontWeight":"normal","font":"Liberation Sans","color":"#222222","offset":-5},
"layer":[
{"layer":[
{"data":{"name":"A"},"mark":{"type":"line","clip":true,"strokeWidth":1,"interpolate":"monotone"},
"encoding":{
"x":{"field":"t","type":"quantitative","scale":{"domain":[7,27],"nice":false,"zero":false},
"axis":{"title":null,"domain":false,"tickCount":200,"values":[7,7.5,8,8.5,9,9.5,10,10.5,11,11.5,12,12.5,13,13.5,14,14.5,15,15.5,16,16.5,17,17.5,18,18.5,19,19.5,20,20.5,21,21.5,22,22.5,23,23.5,24,24.5,25,25.5,26,26.5,27],"labelExpr":"datum.value == 27 ? 'min' : (datum.value % 2.5 == 0 && datum.value > 7 ? format(datum.value, '.1f') : '')","labelFlush":true,"labelOverlap":false,"labelFontSize":9.5,"labelColor":"#222222","labelPadding":2,"tickColor":"#333333","tickSize":4,"grid":true,"gridDash":[3,3],"gridColor":"#bdbdbd","gridOpacity":{"condition":{"test":"datum.value % 2.5 == 0 && datum.value > 7 && datum.value < 27","value":1},"value":0}}},
"y":{"field":"v","type":"quantitative","scale":{"domain":[0,100000],"nice":false},
"axis":{"title":"a)","titleAngle":0,"titleX":-55.5,"titleY":194,"titleAlign":"center","titleBaseline":"middle","titleFont":"Liberation Serif","titleFontSize":30,"titleFontWeight":"bold","titleColor":"#000000","domain":false,"tickCount":200,"values":[0,2000,4000,6000,8000,10000,12000,14000,16000,18000,20000,22000,24000,26000,28000,30000,32000,34000,36000,38000,40000,42000,44000,46000,48000,50000,52000,54000,56000,58000,60000,62000,64000,66000,68000,70000,72000,74000,76000,78000,80000,82000,84000,86000,88000,90000,92000,94000,96000,98000,100000],"labelExpr":"datum.value % 10000 == 0 ? format(datum.value, 'd') : ''","labelOverlap":false,"labelFontSize":9.5,"labelColor":"#222222","labelPadding":1,"tickColor":"#333333","tickSize":{"condition":{"test":"datum.value % 10000 == 0","value":7},"value":3},"grid":true,"gridDash":[3,3],"gridColor":"#bdbdbd","gridOpacity":{"condition":{"test":"datum.value % 10000 == 0 && datum.value > 0 && datum.value < 100000","value":1},"value":0}}},
"color":{"field":"s","type":"nominal","scale":{"domain":["TIC1","TIC2","TIC3","TIC4","XIC1","XIC2","XIC3"],"range":["#000000","#ff00ff","#0000ff","#8b1a1a","#008800","#000090","#a08c1e"]},"legend":null}}},
{"data":{"name":"IA"},"mark":{"type":"line","color":"#ff0000","strokeWidth":1},"encoding":{"x":{"field":"t","type":"quantitative"},"y":{"field":"v","type":"quantitative"},"detail":{"field":"seg"}}},
{"data":{"values":[{}]},"mark":{"type":"text","text":"↑","color":"#ff0000","fontSize":9,"baseline":"top"},"encoding":{"x":{"datum":7.72},"y":{"datum":4000}}},
{"data":{"values":[{}]},"mark":{"type":"text","text":"↓","color":"#ff0000","fontSize":9,"baseline":"bottom"},"encoding":{"x":{"datum":8.87},"y":{"datum":4600}}},
{"data":{"values":[{}]},"mark":{"type":"rule","color":"#000000","strokeWidth":1},"encoding":{"x":{"datum":10.88}}},
{"data":{"values":[{}]},"mark":{"type":"text","text":"8.011","angle":270,"fontSize":9,"color":"#222222","align":"center","baseline":"middle"},"encoding":{"x":{"datum":8.2},"y":{"datum":25700}}},
{"data":{"values":[{}]},"mark":{"type":"text","text":"Time","align":"center","baseline":"top"},"encoding":{"x":{"datum":21.87},"y":{"datum":100000}}},
{"data":{"values":[{}]},"mark":{"type":"text","text":"Scan#","align":"center","baseline":"top"},"encoding":{"x":{"datum":23.57},"y":{"datum":100000}}},
{"data":{"values":[{}]},"mark":{"type":"text","text":"Inten.","align":"center","baseline":"top"},"encoding":{"x":{"datum":25.13},"y":{"datum":100000}}},
{"data":{"values":[{}]},"mark":{"type":"text","text":"10,860 mins","font":"Liberation Serif","fontSize":42,"color":"#000000","align":"center","baseline":"alphabetic"},"encoding":{"x":{"datum":17.48},"y":{"datum":66900}}},
{"data":{"values":[{}]},"mark":{"type":"rule","color":"#000000","strokeWidth":4.5},"encoding":{"x":{"datum":15.39},"y":{"datum":61690},"x2":{"datum":11.254},"y2":{"datum":46070}}},
{"data":{"values":[{}]},"mark":{"type":"point","shape":"triangle-up","filled":true,"size":330,"angle":252,"color":"#000000","opacity":1,"strokeWidth":0},"encoding":{"x":{"datum":11.254},"y":{"datum":46070}}},
{"data":{"values":[{}]},"mark":{"type":"rect","fill":"#ffffff","stroke":"#404040","strokeWidth":1},"encoding":{"x":{"datum":7},"x2":{"datum":27},"y":{"datum":-4990},"y2":{"datum":-7090}}},
{"data":{"values":[{}]},"mark":{"type":"rule","color":"#404040","strokeWidth":1},"encoding":{"x":{"datum":10.88},"y":{"datum":-4990},"y2":{"datum":-7090}}},
{"data":{"values":[{}]},"mark":{"type":"text","text":"■","fontSize":8,"color":"#222222","align":"center","baseline":"middle"},"encoding":{"x":{"datum":6.18},"y":{"datum":-10760}}},
{"data":{"values":[{}]},"mark":{"type":"text","text":"Spectrum View","fontSize":9.5,"color":"#222222","align":"left","baseline":"middle"},"encoding":{"x":{"datum":6.48},"y":{"datum":-10760}}}
]},
{"data":{"name":"LA"},"mark":{"type":"text","align":"left","baseline":"top","fontSize":9.5,"dy":1},
"encoding":{"x":{"datum":7.05},"y":{"field":"n","type":"quantitative","scale":{"domain":[0,37.35],"reverse":true,"nice":false,"zero":false},"axis":null},"text":{"field":"label"},
"color":{"field":"s","type":"nominal","scale":{"domain":["TIC1","TIC2","TIC3","TIC4","XIC1","XIC2","XIC3"],"range":["#000000","#ff00ff","#0000ff","#8b1a1a","#008800","#000090","#a08c1e"]},"legend":null}}}
],
"resolve":{"scale":{"y":"independent"}}
},
{
"width":882,"height":381,
"title":{"text":"Max Intensity : 341,589","anchor":"end","frame":"group","fontSize":10,"fontWeight":"normal","font":"Liberation Sans","color":"#222222","offset":-5},
"layer":[
{"layer":[
{"data":{"name":"B"},"mark":{"type":"line","clip":true,"strokeWidth":1,"interpolate":"monotone"},
"encoding":{
"x":{"field":"t","type":"quantitative","scale":{"domain":[7,27],"nice":false,"zero":false},
"axis":{"title":null,"domain":false,"tickCount":200,"values":[7,7.5,8,8.5,9,9.5,10,10.5,11,11.5,12,12.5,13,13.5,14,14.5,15,15.5,16,16.5,17,17.5,18,18.5,19,19.5,20,20.5,21,21.5,22,22.5,23,23.5,24,24.5,25,25.5,26,26.5,27],"labelExpr":"datum.value == 27 ? 'min' : (datum.value % 2.5 == 0 && datum.value > 7 ? format(datum.value, '.1f') : '')","labelFlush":true,"labelOverlap":false,"labelFontSize":9.5,"labelColor":"#222222","labelPadding":2,"tickColor":"#333333","tickSize":4,"grid":true,"gridDash":[3,3],"gridColor":"#bdbdbd","gridOpacity":{"condition":{"test":"datum.value % 2.5 == 0 && datum.value > 7 && datum.value < 27","value":1},"value":0}}},
"y":{"field":"v","type":"quantitative","scale":{"domain":[0,400000],"nice":false},
"axis":{"title":"b)","titleAngle":0,"titleX":-62.5,"titleY":203,"titleAlign":"center","titleBaseline":"middle","titleFont":"Liberation Serif","titleFontSize":30,"titleFontWeight":"bold","titleColor":"#000000","domain":false,"tickCount":200,"values":[0,10000,20000,30000,40000,50000,60000,70000,80000,90000,100000,110000,120000,130000,140000,150000,160000,170000,180000,190000,200000,210000,220000,230000,240000,250000,260000,270000,280000,290000,300000,310000,320000,330000,340000,350000,360000,370000,380000,390000,400000],"labelExpr":"datum.value % 50000 == 0 ? format(datum.value, 'd') : ''","labelOverlap":false,"labelFontSize":9.5,"labelColor":"#222222","labelPadding":1,"tickColor":"#333333","tickSize":{"condition":{"test":"datum.value % 50000 == 0","value":7},"value":3},"grid":true,"gridDash":[3,3],"gridColor":"#bdbdbd","gridOpacity":{"condition":{"test":"datum.value % 50000 == 0 && datum.value > 0 && datum.value < 400000","value":1},"value":0}}},
"color":{"field":"s","type":"nominal","scale":{"domain":["TIC1","TIC2","TIC3","TIC4","XIC1","XIC2","XIC3"],"range":["#000000","#ff00ff","#0000ff","#8b1a1a","#008800","#000090","#a08c1e"]},"legend":null}}},
{"data":{"values":[{}]},"mark":{"type":"rule","color":"#000000","strokeWidth":1},"encoding":{"x":{"datum":10.39}}},
{"data":{"values":[{}]},"mark":{"type":"text","text":"Time","align":"center","baseline":"top"},"encoding":{"x":{"datum":21.85},"y":{"datum":400000}}},
{"data":{"values":[{}]},"mark":{"type":"text","text":"13.829","align":"center","baseline":"top"},"encoding":{"x":{"datum":22.63},"y":{"datum":400000}}},
{"data":{"values":[{}]},"mark":{"type":"text","text":"Scan#","align":"center","baseline":"top"},"encoding":{"x":{"datum":23.57},"y":{"datum":400000}}},
{"data":{"values":[{}]},"mark":{"type":"text","text":"7,729","align":"center","baseline":"top"},"encoding":{"x":{"datum":24.3},"y":{"datum":400000}}},
{"data":{"values":[{}]},"mark":{"type":"text","text":"Inten.","align":"center","baseline":"top"},"encoding":{"x":{"datum":25.12},"y":{"datum":400000}}},
{"data":{"values":[{}]},"mark":{"type":"text","text":"12,417","align":"right","baseline":"top","dx":-1},"encoding":{"x":{"datum":27},"y":{"datum":400000}}},
{"data":{"values":[{}]},"mark":{"type":"text","text":"10,377 mins","font":"Liberation Serif","fontSize":42,"color":"#000000","align":"center","baseline":"alphabetic"},"encoding":{"x":{"datum":17.02},"y":{"datum":194200}}},
{"data":{"values":[{}]},"mark":{"type":"rule","color":"#000000","strokeWidth":4.5},"encoding":{"x":{"datum":14.3},"y":{"datum":183700},"x2":{"datum":10.615},"y2":{"datum":115500}}},
{"data":{"values":[{}]},"mark":{"type":"point","shape":"triangle-up","filled":true,"size":330,"angle":248,"color":"#000000","opacity":1,"strokeWidth":0},"encoding":{"x":{"datum":10.615},"y":{"datum":115500}}},
{"data":{"values":[{}]},"mark":{"type":"rect","fill":"#ffffff","stroke":"#404040","strokeWidth":1},"encoding":{"x":{"datum":7},"x2":{"datum":27},"y":{"datum":-20700},"y2":{"datum":-29400}}},
{"data":{"values":[{}]},"mark":{"type":"rule","color":"#404040","strokeWidth":1},"encoding":{"x":{"datum":10.39},"y":{"datum":-20700},"y2":{"datum":-29400}}}
]},
{"data":{"name":"LB"},"mark":{"type":"text","align":"left","baseline":"top","fontSize":9.5,"dy":1},
"encoding":{"x":{"datum":7.05},"y":{"field":"n","type":"quantitative","scale":{"domain":[0,37.35],"reverse":true,"nice":false,"zero":false},"axis":null},"text":{"field":"label"},
"color":{"field":"s","type":"nominal","scale":{"domain":["TIC1","TIC2","TIC3","TIC4","XIC1","XIC2","XIC3"],"range":["#000000","#ff00ff","#0000ff","#8b1a1a","#008800","#000090","#a08c1e"]},"legend":null}}}
],
"resolve":{"scale":{"y":"independent"}}
},
{
"width":882,"height":383,
"title":{"text":"Max Intensity : 624,978","anchor":"end","frame":"group","fontSize":10,"fontWeight":"normal","font":"Liberation Sans","color":"#222222","offset":-5},
"layer":[
{"layer":[
{"data":{"name":"C"},"mark":{"type":"line","clip":true,"strokeWidth":1,"interpolate":"monotone"},
"encoding":{
"x":{"field":"t","type":"quantitative","scale":{"domain":[7,27],"nice":false,"zero":false},
"axis":{"title":null,"domain":false,"tickCount":200,"values":[7,7.5,8,8.5,9,9.5,10,10.5,11,11.5,12,12.5,13,13.5,14,14.5,15,15.5,16,16.5,17,17.5,18,18.5,19,19.5,20,20.5,21,21.5,22,22.5,23,23.5,24,24.5,25,25.5,26,26.5,27],"labelExpr":"datum.value == 27 ? 'min' : (datum.value % 2.5 == 0 && datum.value > 7 ? format(datum.value, '.1f') : '')","labelFlush":true,"labelOverlap":false,"labelFontSize":9.5,"labelColor":"#222222","labelPadding":2,"tickColor":"#333333","tickSize":4,"grid":true,"gridDash":[3,3],"gridColor":"#bdbdbd","gridOpacity":{"condition":{"test":"datum.value % 2.5 == 0 && datum.value > 7 && datum.value < 27","value":1},"value":0}}},
"y":{"field":"v","type":"quantitative","scale":{"domain":[0,400000],"nice":false},
"axis":{"title":"c)","titleAngle":0,"titleX":-64.5,"titleY":175,"titleAlign":"center","titleBaseline":"middle","titleFont":"Liberation Serif","titleFontSize":30,"titleFontWeight":"bold","titleColor":"#000000","domain":false,"tickCount":200,"values":[0,10000,20000,30000,40000,50000,60000,70000,80000,90000,100000,110000,120000,130000,140000,150000,160000,170000,180000,190000,200000,210000,220000,230000,240000,250000,260000,270000,280000,290000,300000,310000,320000,330000,340000,350000,360000,370000,380000,390000,400000],"labelExpr":"datum.value % 50000 == 0 ? format(datum.value, 'd') : ''","labelOverlap":false,"labelFontSize":9.5,"labelColor":"#222222","labelPadding":1,"tickColor":"#333333","tickSize":{"condition":{"test":"datum.value % 50000 == 0","value":7},"value":3},"grid":true,"gridDash":[3,3],"gridColor":"#bdbdbd","gridOpacity":{"condition":{"test":"datum.value % 50000 == 0 && datum.value > 0 && datum.value < 400000","value":1},"value":0}}},
"color":{"field":"s","type":"nominal","scale":{"domain":["TIC1","TIC2","TIC3","TIC4","XIC1","XIC2","XIC3"],"range":["#000000","#ff00ff","#0000ff","#8b1a1a","#008800","#000090","#a08c1e"]},"legend":null}}},
{"data":{"name":"IC"},"mark":{"type":"line","color":"#ff0000","strokeWidth":1,"clip":true},"encoding":{"x":{"field":"t","type":"quantitative"},"y":{"field":"v","type":"quantitative"},"detail":{"field":"seg"}}},
{"data":{"values":[{}]},"mark":{"type":"rule","color":"#707070","strokeWidth":1.5},"encoding":{"x":{"datum":10.4}}},
{"data":{"values":[{}]},"mark":{"type":"text","text":"/10.394","angle":270,"fontSize":9,"color":"#222222","align":"center","baseline":"middle"},"encoding":{"x":{"datum":10.58},"y":{"datum":322700}}},
{"data":{"values":[{}]},"mark":{"type":"text","text":"/12.314","angle":270,"fontSize":9,"color":"#222222","align":"center","baseline":"middle"},"encoding":{"x":{"datum":12.5},"y":{"datum":383300}}},
{"data":{"values":[{}]},"mark":{"type":"text","text":"/9.272","angle":270,"fontSize":9,"color":"#222222","align":"center","baseline":"middle"},"encoding":{"x":{"datum":9.44},"y":{"datum":80400}}},
{"data":{"values":[{}]},"mark":{"type":"text","text":"/10.234","angle":270,"fontSize":9,"color":"#222222","align":"center","baseline":"middle"},"encoding":{"x":{"datum":10.42},"y":{"datum":65800}}},
{"data":{"values":[{}]},"mark":{"type":"text","text":"Time","align":"center","baseline":"top"},"encoding":{"x":{"datum":21.85},"y":{"datum":400000}}},
{"data":{"values":[{}]},"mark":{"type":"text","text":"15.717","align":"center","baseline":"top"},"encoding":{"x":{"datum":22.63},"y":{"datum":400000}}},
{"data":{"values":[{}]},"mark":{"type":"text","text":"Scan#","align":"center","baseline":"top"},"encoding":{"x":{"datum":23.56},"y":{"datum":400000}}},
{"data":{"values":[{}]},"mark":{"type":"text","text":"9,869","align":"center","baseline":"top"},"encoding":{"x":{"datum":24.3},"y":{"datum":400000}}},
{"data":{"values":[{}]},"mark":{"type":"text","text":"Inten.","align":"center","baseline":"top"},"encoding":{"x":{"datum":25.12},"y":{"datum":400000}}},
{"data":{"values":[{}]},"mark":{"type":"text","text":"7,250","align":"right","baseline":"top","dx":-1},"encoding":{"x":{"datum":27},"y":{"datum":400000}}},
{"data":{"values":[{}]},"mark":{"type":"text","text":"10,394 mins","font":"Liberation Serif","fontSize":42,"color":"#000000","align":"center","baseline":"alphabetic"},"encoding":{"x":{"datum":17.25},"y":{"datum":197400}}},
{"data":{"values":[{}]},"mark":{"type":"rule","color":"#000000","strokeWidth":4.5},"encoding":{"x":{"datum":14.51},"y":{"datum":187300},"x2":{"datum":10.833},"y2":{"datum":120000}}},
{"data":{"values":[{}]},"mark":{"type":"point","shape":"triangle-up","filled":true,"size":330,"angle":248,"color":"#000000","opacity":1,"strokeWidth":0},"encoding":{"x":{"datum":10.833},"y":{"datum":120000}}},
{"data":{"values":[{}]},"mark":{"type":"rect","fill":"#ffffff","stroke":"#404040","strokeWidth":1},"encoding":{"x":{"datum":7},"x2":{"datum":27},"y":{"datum":-19800},"y2":{"datum":-31300}}},
{"data":{"values":[{}]},"mark":{"type":"rect","fill":"#c8c8c8"},"encoding":{"x":{"datum":10.02},"x2":{"datum":11.23},"y":{"datum":-20300},"y2":{"datum":-31300}}}
]},
{"data":{"name":"LB"},"mark":{"type":"text","align":"left","baseline":"top","fontSize":9.5,"dy":1},
"encoding":{"x":{"datum":7.03},"y":{"field":"n","type":"quantitative","scale":{"domain":[0,37.55],"reverse":true,"nice":false,"zero":false},"axis":null},"text":{"field":"label"},
"color":{"field":"s","type":"nominal","scale":{"domain":["TIC1","TIC2","TIC3","TIC4","XIC1","XIC2","XIC3"],"range":["#000000","#ff00ff","#0000ff","#8b1a1a","#008800","#000090","#a08c1e"]},"legend":null}}}
],
"resolve":{"scale":{"y":"independent"}}
}
]
}
